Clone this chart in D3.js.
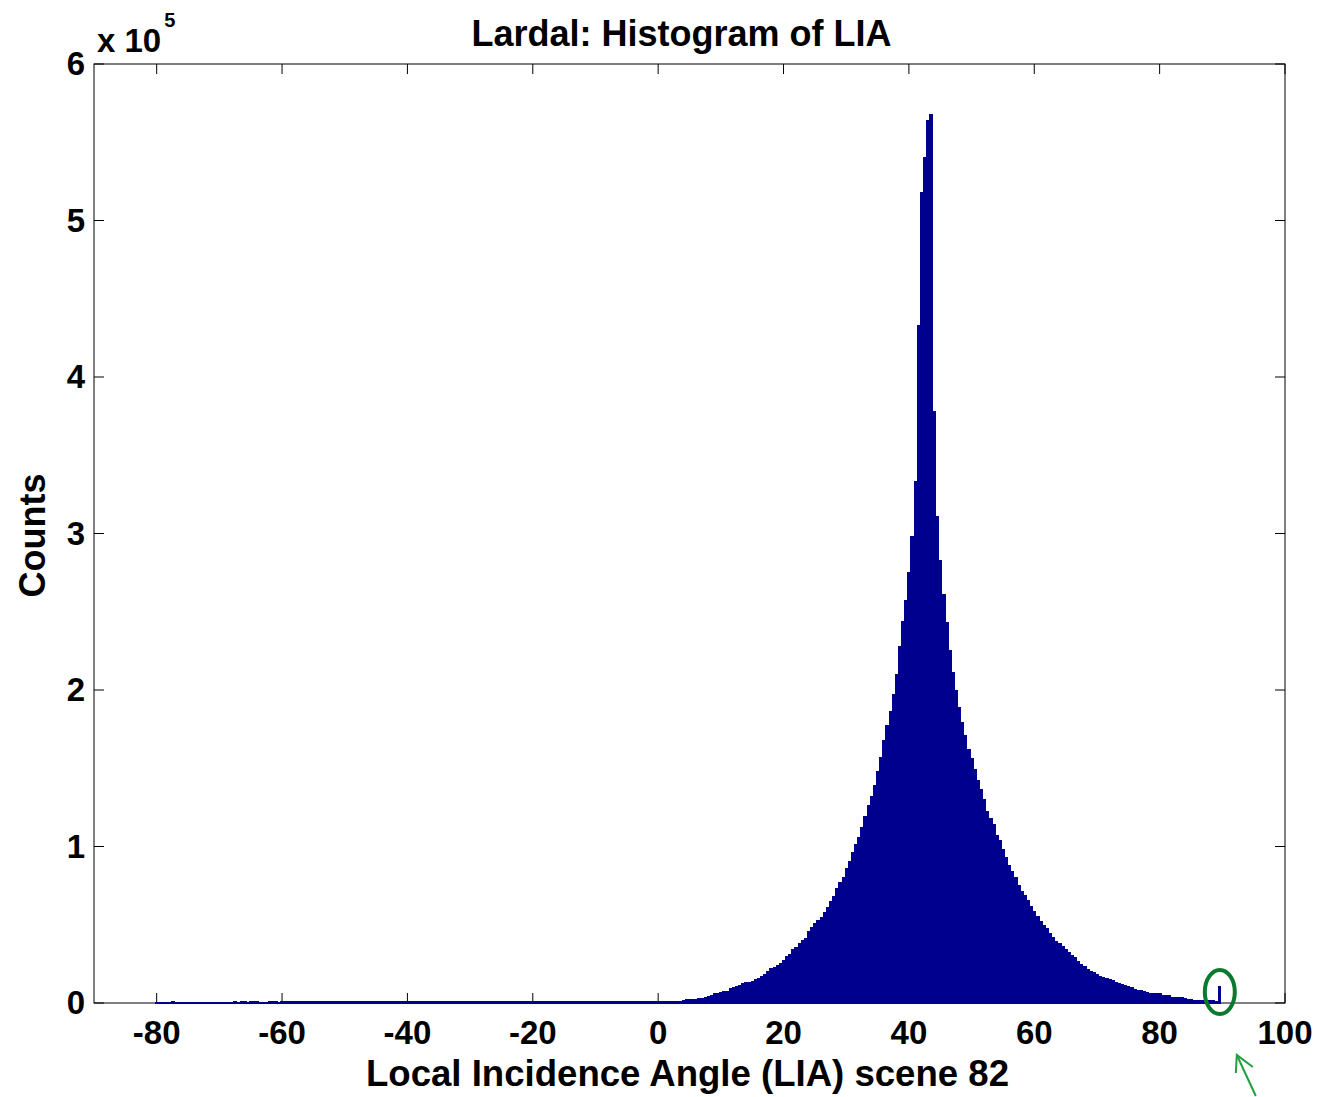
<!DOCTYPE html>
<html>
<head>
<meta charset="utf-8">
<script src="https://cdn.jsdelivr.net/npm/d3@7"></script>
<style>
  body { margin:0; background:#fff; }
  text { font-family:'Liberation Sans', Arial, Helvetica, sans-serif; font-weight:bold; fill:#000; }
</style>
</head>
<body>
<svg id="chart" width="1321" height="1097"></svg>
<script>
// histogram bins: centre of first bin and bin width (degrees)
var binStart = -80;
var binWidth = 0.5;

// counts in thousands, -80 .. -60.5
var negTail = [0.3,0.3,0.3,0.3,0.3,1.2,0.3,0.3,0.3,0.3,
               0.3,0.3,0.3,0.3,0.3,0.3,0.3,0.3,0.3,0.3,
               0.3,0.3,0.3,0.3,0.3,1.2,0.3,1.2,1.2,0.3,
               1.2,1.2,1.2,0.3,0.3,0.3,1.2,1.2,1.2,0.3];
// -60 .. 3.5
var flatZone = [0.9,0.9,0.9,0.9,0.9,0.9,0.9,0.9,0.9,0.9,0.9,0.9,0.9,0.9,0.9,0.9,
                0.9,0.9,0.9,0.9,0.9,0.9,0.9,0.9,0.9,0.9,0.9,0.9,0.9,0.9,0.9,0.9,
                0.9,0.9,0.9,0.9,0.9,0.9,0.9,0.9,0.9,0.9,0.9,0.9,0.9,0.9,0.9,0.9,
                0.9,0.9,0.9,0.9,0.9,0.9,0.9,0.9,0.9,0.9,0.9,0.9,0.9,0.9,0.9,0.9,
                0.9,0.9,0.9,0.9,0.9,0.9,0.9,0.9,0.9,0.9,0.9,0.9,0.9,0.9,0.9,0.9,
                0.9,0.9,0.9,0.9,0.9,0.9,0.9,0.9,0.9,0.9,0.9,0.9,0.9,0.9,0.9,0.9,
                0.9,0.9,0.9,0.9,0.9,0.9,0.9,0.9,0.9,0.9,0.9,0.9,0.9,0.9,0.9,0.9,
                0.9,0.9,0.9,0.9,0.9,0.9,0.9,0.9,0.9,0.9,0.9,0.9,0.9,0.9,0.9,0.9];
// 4 .. 89.5
var mainBody = [1.8,2.0,2.0,2.1,2.3,2.9,3.0,3.3,4.3,4.7,
                5.8,6.1,6.5,7.1,7.4,9.2,9.6,10.5,11.0,12.3,
                12.8,13.4,13.9,14.9,15.4,16.8,18.5,20.0,21.8,22.6,
                23.8,25.4,27.0,30.0,31.2,33.9,35.6,37.7,40.0,41.5,
                45.4,48.1,50.5,53.0,54.5,58,61,65,68,73,
                77,80,86,90.5,96,101,106,112,119,126,
                132,139,148,157,168,177,186,197,210,228,
                244,257,275,298,333,433,518,540,564,568,
                378,311,283,261,243,225,211,199.5,189,179,
                171,162,156,149,142,136.5,130,122.6,118,114,
                107.3,103.6,98.2,93.2,88,84.3,80,75.2,71.5,69,
                65.3,61.6,58.7,55,52.2,49.8,47.3,44.5,42,39.6,
                38.3,36.4,33.9,32.5,30.5,29.2,26.4,24.9,23.2,21.1,
                20,19.5,18.5,17.2,16.5,15.5,14.7,14.2,13,12.3,
                12,11.1,10.8,9.8,8.6,8.3,8.0,7.2,7.0,6.3,
                6.2,6.1,5.9,4.7,4.6,4.5,3.6,3.5,3.4,3.3,
                2.9,2.2,2.0,1.9,1.9,1.8,1.8,1.7,1.5,1.4,
                1.0,10.8];

var xTicks = [-80,-60,-40,-20,0,20,40,60,80,100];
var yTicks = [0,1,2,3,4,5,6];
var xDomain = [-90,100];
var yDomain = [0,6];   // x 10^5
var flagged = {angle:89.6, count:7};   // circled outlier bin (thousands)

var margin = {top:64, right:36, bottom:94, left:94},
    width = 1321 - margin.left - margin.right,
    height = 1097 - margin.top - margin.bottom;
var barColor = '#00008f';

var counts = negTail.concat(flatZone, mainBody);
var bins = counts.map(function(c,i){ return {x: binStart + i*binWidth, v: c*1000}; });

var svg = d3.select('#chart');
var g = svg.append('g').attr('transform','translate('+margin.left+','+margin.top+')');

var xScale = d3.scaleLinear().domain(xDomain).range([0,width]);
var yScale = d3.scaleLinear().domain([yDomain[0]*1e5, yDomain[1]*1e5]).range([height,0]);

// box
g.append('rect')
    .attr('x',0).attr('y',0)
    .attr('width',width).attr('height',height)
    .attr('fill','none').attr('stroke','#000').attr('stroke-width',1);

// inward ticks on all four sides
var tickLen = 10;
g.selectAll('.xtickb').data(xTicks).join('line')
    .attr('class','xtickb')
    .attr('x1',d => xScale(d)).attr('x2',d => xScale(d))
    .attr('y1',height).attr('y2',height-tickLen)
    .attr('stroke','#000');
g.selectAll('.xtickt').data(xTicks).join('line')
    .attr('class','xtickt')
    .attr('x1',d => xScale(d)).attr('x2',d => xScale(d))
    .attr('y1',0).attr('y2',tickLen)
    .attr('stroke','#000');
g.selectAll('.ytickl').data(yTicks).join('line')
    .attr('class','ytickl')
    .attr('x1',0).attr('x2',tickLen)
    .attr('y1',d => yScale(d*1e5)).attr('y2',d => yScale(d*1e5))
    .attr('stroke','#000');
g.selectAll('.ytickr').data(yTicks).join('line')
    .attr('class','ytickr')
    .attr('x1',width).attr('x2',width-tickLen)
    .attr('y1',d => yScale(d*1e5)).attr('y2',d => yScale(d*1e5))
    .attr('stroke','#000');

// bars (crisp edges so neighbouring bars merge without seams)
g.append('g')
    .attr('shape-rendering','crispEdges')
    .selectAll('.bar').data(bins).join('rect')
    .attr('class','bar')
    .attr('x',d => xScale(d.x - binWidth/2))
    .attr('width',d => xScale(d.x + binWidth/2) - xScale(d.x - binWidth/2) + 0.6)
    .attr('y',d => yScale(d.v) - 0.5)
    .attr('height',d => yScale(0) - yScale(d.v) + 1)
    .attr('fill',barColor);

// tick labels
g.selectAll('.xlab').data(xTicks).join('text')
    .attr('class','xlab')
    .attr('x',d => xScale(d))
    .attr('y',height+41)
    .attr('text-anchor','middle')
    .style('font-size','33px')
    .text(d => d);
g.selectAll('.ylab').data(yTicks).join('text')
    .attr('class','ylab')
    .attr('x',-9)
    .attr('y',d => yScale(d*1e5)+11)
    .attr('text-anchor','end')
    .style('font-size','33px')
    .text(d => d);

// exponent
var expo = svg.append('text').attr('x',97).attr('y',52).style('font-size','33px');
expo.append('tspan').text('x 10');
expo.append('tspan').attr('dx',3).attr('dy',-25).style('font-size','20px').text('5');

// title and axis labels
svg.append('text')
    .attr('x',margin.left + width/2 - 8)
    .attr('y',46)
    .attr('text-anchor','middle')
    .style('font-size','36px')
    .text('Lardal: Histogram of LIA');
svg.append('text')
    .attr('x',margin.left + width/2 - 2)
    .attr('y',1086)
    .attr('text-anchor','middle')
    .style('font-size','36.6px')
    .text('Local Incidence Angle (LIA) scene 82');
svg.append('text')
    .attr('transform','translate(45,'+(margin.top + height/2 + 2)+') rotate(-90)')
    .attr('text-anchor','middle')
    .style('font-size','36px')
    .text('Counts');

// annotation: green ellipse around the outlier bin and arrow pointing at it
var ex = margin.left + xScale(flagged.angle),
    ey = margin.top + yScale(flagged.count*1000);
svg.append('ellipse')
    .attr('cx',ex).attr('cy',ey)
    .attr('rx',15).attr('ry',22)
    .attr('fill','none')
    .attr('stroke','#0b7a2e')
    .attr('stroke-width',4);
var arrow = svg.append('g').attr('stroke','#1fa03e').attr('stroke-width',2).attr('fill','none');
arrow.append('line').attr('x1',ex+36).attr('y1',ey+104).attr('x2',ex+17).attr('y2',ey+63);
arrow.append('polyline')
    .attr('points',[[ex+16,ey+81],[ex+17,ey+63],[ex+33,ey+75]].map(p => p.join(',')).join(' '));
</script>
</body>
</html>
